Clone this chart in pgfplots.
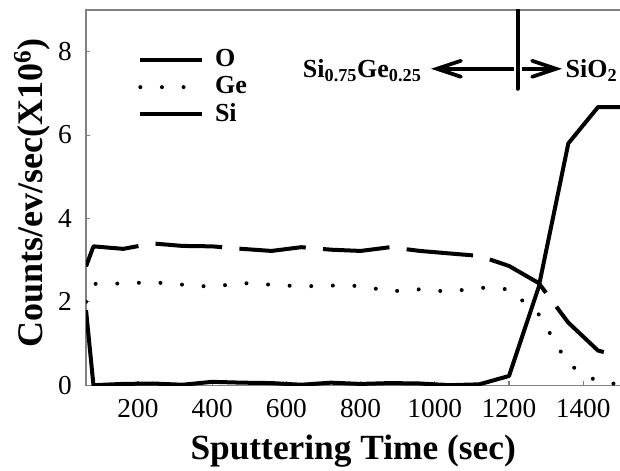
\documentclass[border=0pt]{standalone}
\usepackage{fontspec}
\setmainfont{Liberation Serif}
\usepackage{pgfplots}
\pgfplotsset{compat=1.18}
\usetikzlibrary{arrows.meta}

\begin{document}
\begin{tikzpicture}
\useasboundingbox (-64.5pt,-63.75pt) rectangle (400.3pt,288.75pt);
\begin{axis}[
  scale only axis, width=400.5pt, height=281.25pt,
  xmin=60, xmax=1500, ymin=0, ymax=9,
  axis line style={draw=gray, line width=0.9pt},
  xtick={200,400,...,1400}, ytick={0,2,4,6,8},
  tick align=inside, xtick pos=bottom, ytick pos=left,
  major tick length=3pt,
  tick style={gray, line width=0.8pt},
  ticklabel style={font=\fontsize{20.5}{24}\selectfont},
  /pgf/number format/assume math mode=true,
  /pgf/number format/set thousands separator={},
  xticklabel style={anchor=base, yshift=-24pt, inner sep=0pt},
  yticklabel style={anchor=east, xshift=-10.5pt, inner sep=0pt},
  xlabel={Sputtering Time (sec)},
  xlabel style={at={(rel axis cs:0.5,0)}, yshift=-56pt, anchor=base, inner sep=0pt, font=\fontsize{26.5}{30}\selectfont\bfseries},
  ylabel={Counts/ev/sec(X10\textsuperscript{6})},
  ylabel style={at={(rel axis cs:-0.101,0.512)}, anchor=center, inner sep=0pt, font=\fontsize{27}{31}\selectfont\bfseries},
  legend style={draw=none, fill=none, at={(rel axis cs:0.0974,0.90)}, anchor=north west, inner sep=0pt,
    row sep=2.5pt, nodes={inner xsep=8pt, inner ysep=1pt, text height=13pt, text depth=3pt},
    font=\fontsize{19.5}{23}\selectfont\bfseries},
  legend cell align=left,
  legend image code/.code={\draw[#1] (0pt,0pt) -- (46.5pt,0pt);},
]
\addplot[black, line width=3pt, line join=round] coordinates {
(60,1.80) (80,0.00) (160,0.03) (240,0.04) (320,0.01) (400,0.08) (480,0.06)
(560,0.05) (640,0.01) (720,0.06) (800,0.03) (880,0.05) (960,0.04) (1040,0.00)
(1120,0.02) (1200,0.22) (1280,2.35) (1360,5.80) (1440,6.67) (1500,6.67)};
\addlegendentry{O}
\addplot[black, line width=3pt, line cap=round, dash pattern=on 0pt off 16.2pt] coordinates {
(60,2.00) (80,2.43) (160,2.44) (240,2.47) (320,2.41) (400,2.36) (480,2.45)
(560,2.41) (640,2.37) (720,2.39) (800,2.38) (880,2.25) (960,2.30) (1040,2.24)
(1120,2.34) (1200,2.30) (1280,1.70) (1360,0.50) (1440,0.08) (1500,0.02)};
\addlegendentry{Ge}
\addplot[black, line width=3pt, line join=round, dash pattern=on 50pt off 13pt] coordinates {
(60,2.85) (80,3.33) (160,3.27) (240,3.40) (320,3.34) (400,3.33) (480,3.27)
(560,3.22) (640,3.31) (720,3.25) (800,3.22) (880,3.31) (960,3.22) (1040,3.16)
(1120,3.10) (1200,2.86) (1280,2.45) (1360,1.50) (1440,0.83) (1500,0.69)};
\addlegendentry{Si}

\draw[black, line width=3pt, line cap=round] (axis cs:1223,9) -- (axis cs:1223,7.11);
\draw[black, line width=2.8pt, -{Straight Barb[length=18pt,width=12pt,line cap=round]}] (axis cs:1213,7.59) -- (axis cs:990,7.59);
\draw[black, line width=2.8pt, -{Straight Barb[length=18pt,width=12pt,line cap=round]}] (axis cs:1234,7.59) -- (axis cs:1343,7.59);
\node[anchor=base east, inner sep=0pt, font=\fontsize{19.5}{22}\selectfont\bfseries] at (axis cs:965,7.38) {Si\textsubscript{0.75}Ge\textsubscript{0.25}};
\node[anchor=base west, inner sep=0pt, font=\fontsize{19.5}{22}\selectfont\bfseries] at (axis cs:1352,7.38) {SiO\textsubscript{2}};
\end{axis}
\end{tikzpicture}
\end{document}
